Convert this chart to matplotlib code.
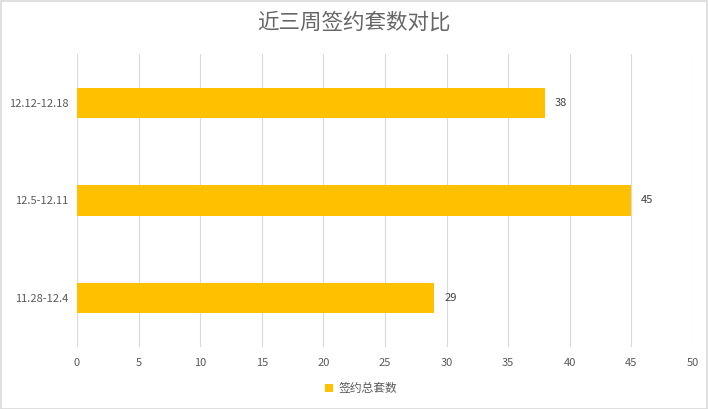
import matplotlib
matplotlib.use("Agg")
import matplotlib.pyplot as plt
from matplotlib.patches import Rectangle

plt.rcParams['font.family'] = ['Noto Sans CJK SC', 'DejaVu Sans']

# data
weeks = ["11.28-12.4", "12.5-12.11", "12.12-12.18"]
counts = [29, 45, 38]
x_ticks = [0, 5, 10, 15, 20, 25, 30, 35, 40, 45, 50]
title_text = "近三周签约套数对比"
series_name = "签约总套数"

bar_color = "#FFC000"
text_gray = "#595959"
grid_gray = "#D9D9D9"

fig = plt.figure(figsize=(7.08, 4.09), dpi=100)
ax = fig.add_axes([0.1088, 0.1516, 0.87, 0.7164])

bars = ax.barh(range(len(weeks)), counts, height=0.31, color=bar_color,
               label=series_name, zorder=3)

for i, v in enumerate(counts):
    ax.text(v + 0.8, i, str(v), va="center", ha="left", fontsize=8, color="#404040")

ax.set_xlim(0, 50)
ax.set_ylim(-0.5, 2.5)
ax.set_xticks(x_ticks)
ax.set_yticks(range(len(weeks)))
ax.set_yticklabels(weeks)
ax.tick_params(axis="both", length=0, labelsize=8, colors=text_gray)
ax.tick_params(axis="x", pad=8)
ax.tick_params(axis="y", pad=6)
ax.grid(axis="x", color=grid_gray, linewidth=0.8, zorder=0)
for s in ax.spines.values():
    s.set_visible(False)

fig.text(0.5, 0.945, title_text, ha="center", va="center", fontsize=15.5, color="#666666")

leg = fig.legend(loc="center", bbox_to_anchor=(0.51, 0.05), frameon=False,
                 fontsize=8.5, handlelength=0.7, handleheight=0.7, handletextpad=0.4)
for t in leg.get_texts():
    t.set_color(text_gray)

# outer border
fig.patches.append(Rectangle((0.001, 0.001), 0.997, 0.996, transform=fig.transFigure,
                             fill=False, edgecolor="#D9D9D9", linewidth=1.2))

fig.savefig("out.png", dpi=100)
